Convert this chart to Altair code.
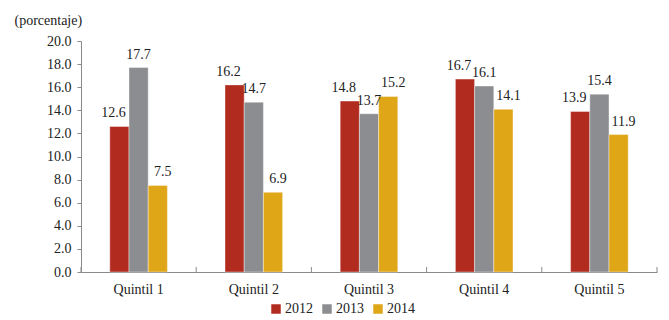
import altair as alt
import pandas as pd

quintiles = ["Quintil 1", "Quintil 2", "Quintil 3", "Quintil 4", "Quintil 5"]
years = ["2012", "2013", "2014"]
v2012 = [12.6, 16.2, 14.8, 16.7, 13.9]
v2013 = [17.7, 14.7, 13.7, 16.1, 15.4]
v2014 = [7.5, 6.9, 15.2, 14.1, 11.9]
colors = ["#B22B1F", "#8B8D90", "#DFA617"]

rows = []
for i, q in enumerate(quintiles):
    for y, vals in zip(years, [v2012, v2013, v2014]):
        rows.append({"quintil": q, "year": y, "value": vals[i]})
df = pd.DataFrame(rows)
qdf = pd.DataFrame({"quintil": quintiles})

FONT = "'Liberation Serif', 'DejaVu Serif', serif"

bar_scale = alt.Scale(paddingInner=0.5, paddingOuter=0.25)
tick_scale = alt.Scale(paddingInner=0, paddingOuter=0)

x_main = alt.X("quintil:N", sort=quintiles, title=None, scale=bar_scale,
               axis=alt.Axis(labelAngle=0, ticks=False, domainColor="#8a8a8a",
                             labelFont=FONT, labelFontSize=14, labelColor="#222",
                             labelPadding=10))
x_lab = alt.X("quintil:N", sort=quintiles, title=None, scale=bar_scale, axis=None)

xoff = alt.XOffset("year:N", sort=years,
                   scale=alt.Scale(domain=years, paddingInner=0, paddingOuter=0))

y = alt.Y("value:Q", scale=alt.Scale(domain=[0, 20], nice=False),
          axis=alt.Axis(values=[0, 2, 4, 6, 8, 10, 12, 14, 16, 18, 20], format=".1f",
                        tickCount=11,
                        grid=False, domainColor="#8a8a8a", tickColor="#8a8a8a",
                        tickSize=4, labelFont=FONT, labelFontSize=14,
                        labelColor="#222", labelPadding=6, labelOverlap=False,
                        title="(porcentaje)", titleAngle=0, titleFont=FONT,
                        titleFontSize=14, titleFontWeight="normal", titleColor="#222",
                        titleAlign="left", titleBaseline="alphabetic",
                        titleX=-67, titleY=-17))

color = alt.Color("year:N", sort=years,
                  scale=alt.Scale(domain=years, range=colors),
                  legend=alt.Legend(title=None, orient="none", direction="horizontal",
                                    legendX=188, legendY=261,
                                    symbolType="square", symbolSize=90,
                                    symbolStrokeWidth=0,
                                    labelFont=FONT, labelFontSize=14, labelColor="#222",
                                    columnPadding=7, labelOffset=2))

bars = alt.Chart(df).mark_bar(stroke="white", strokeWidth=0.4).encode(
    x=x_main, xOffset=xoff, y=y, color=color
)

label_layers = []
for yr, shift in zip(years, [-6, 0, 5]):
    label_layers.append(
        alt.Chart(df).transform_filter(alt.datum.year == yr).mark_text(
            dy=-9, dx=shift, baseline="alphabetic", font=FONT, fontSize=14, color="#222"
        ).encode(
            x=x_lab, xOffset=xoff, y=y, text=alt.Text("value:Q", format=".1f")
        )
    )

tick_start = alt.Chart(qdf).mark_rule(color="#8a8a8a", strokeWidth=1).encode(
    x=alt.X("quintil:N", sort=quintiles, scale=tick_scale, axis=None, bandPosition=0),
    y=alt.value(231), y2=alt.value(226)
)
tick_end = alt.Chart(qdf).transform_filter(alt.datum.quintil == quintiles[-1]).mark_rule(
    color="#8a8a8a", strokeWidth=1).encode(
    x=alt.X("quintil:N", sort=quintiles, scale=tick_scale, axis=None, bandPosition=1),
    y=alt.value(231), y2=alt.value(226)
)

chart = alt.layer(bars, *label_layers, tick_start, tick_end).resolve_scale(
    x="independent").properties(
    width=576, height=231,
    autosize=alt.AutoSizeParams(type="none"),
    padding={"left": 81, "top": 41, "right": 12, "bottom": 48},
).configure_view(stroke=None)

chart.save("out.html", embed_options={"renderer": "svg", "actions": False})
